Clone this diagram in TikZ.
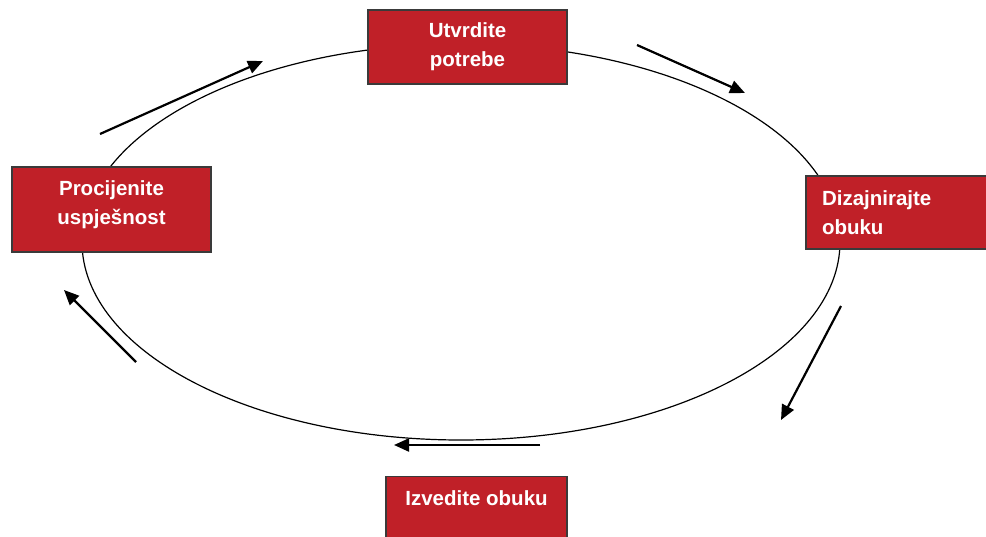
\documentclass[tikz,border=0pt]{standalone}
\usepackage{fontspec}
\setmainfont{Liberation Sans}
\usepackage{xcolor}
\definecolor{cycleRed}{RGB}{192, 32, 40}
\definecolor{cycleBorder}{RGB}{58, 58, 58}
\usepackage{tikz}
\usetikzlibrary{
    arrows.meta,
    positioning
}

\begin{document}
\begin{tikzpicture}[
    x=1pt, y=-1pt,
    stepbox/.style={
        rectangle,
        draw=cycleBorder, line width=1.4pt,
        fill=cycleRed, text=white,
        font=\bfseries\fontsize{20.5}{29}\selectfont, align=center,
        inner sep=0pt
    },
    cycleArrow/.style={
        -{Triangle[length=15pt, width=13pt]}, line width=2.2pt, draw=black
    }
]

    % Page frame
    \useasboundingbox (0,0) rectangle (986,536);
    \clip (0,0) rectangle (986,536);

    % Cycle ellipse
    \draw[line width=1.2pt] (461,242) ellipse [x radius=379, y radius=198];

    % Steps of the cycle
    \node[stepbox, minimum width=199pt, minimum height=74pt] (identify) at (467.5,47) {
        Utvrdite\\potrebe
    };
    \node[stepbox, minimum width=184pt, minimum height=73pt, align=left,
          text width=152pt] (design) at (898,212.5) {
        Dizajnirajte\\obuku
    };
    \node[stepbox, minimum width=199pt, minimum height=85pt] (assess) at (111.5,209.5) {
        Procijenite\\uspješnost\\[-15pt]{}
    };
    \node[stepbox, anchor=north, minimum width=181pt, inner ysep=13.5pt,
          text depth=40pt] (deliver) at (476.5,476) {Izvedite obuku};

    % Arrow end points
    \coordinate (arrTopA) at (100,134);
    \coordinate (arrTopB) at (263,61);
    \coordinate (arrRightA) at (637,45);
    \coordinate (arrRightB) at (745,93);
    \coordinate (arrDownA) at (841,306);
    \coordinate (arrDownB) at (781,420);
    \coordinate (arrBotA) at (540,445);
    \coordinate (arrBotB) at (394,445);
    \coordinate (arrLeftA) at (136,362);
    \coordinate (arrLeftB) at (64,290);

    % Direction arrows
    \draw[cycleArrow] (arrTopA) -- (arrTopB);
    \draw[cycleArrow] (arrRightA) -- (arrRightB);
    \draw[cycleArrow] (arrDownA) -- (arrDownB);
    \draw[cycleArrow] (arrBotA) -- (arrBotB);
    \draw[cycleArrow] (arrLeftA) -- (arrLeftB);

\end{tikzpicture}
\end{document}
